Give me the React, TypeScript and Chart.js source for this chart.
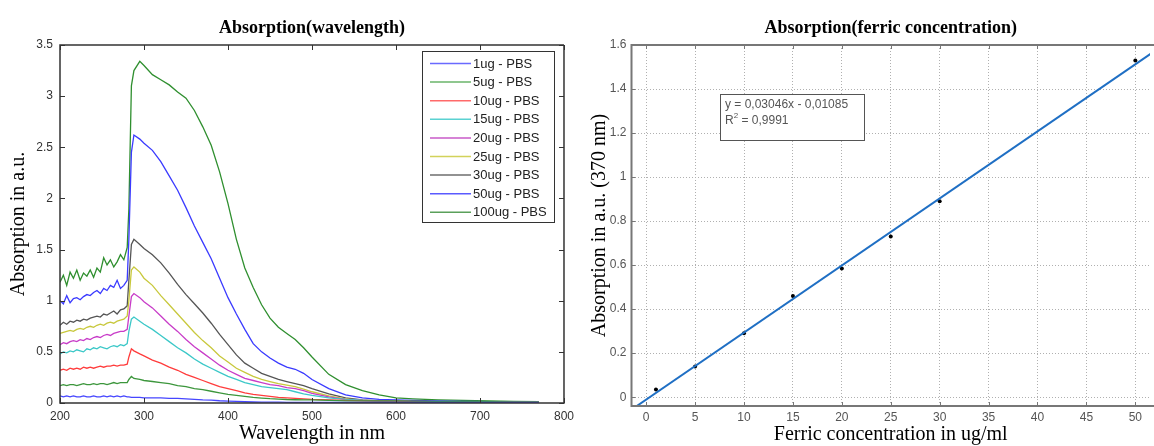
import React, { useEffect, useRef } from "react";
import { Chart, registerables } from "chart.js";

Chart.register(...registerables);

// ---------- Left chart data ----------
const wavelengths = [
  200, 204, 208, 212, 216, 220, 224, 228, 232, 236, 240, 244, 248, 252, 256, 260, 264, 268, 272, 276, 280,
  282, 285, 288, 295, 300, 310, 320, 330, 340, 350, 360, 370, 380, 390, 400, 410, 420, 430, 440, 450, 460,
  470, 480, 490, 500, 520, 540, 560, 580, 600, 620, 650, 680, 710, 740, 770,
];

const abs1ug = [
  0.07, 0.06, 0.07, 0.06, 0.07, 0.06, 0.06, 0.07, 0.06, 0.06, 0.07, 0.06, 0.06, 0.07, 0.06, 0.07, 0.06, 0.07, 0.06, 0.07, 0.06,
  0.06, 0.055, 0.055, 0.055, 0.05, 0.05, 0.05, 0.045, 0.045, 0.04, 0.035, 0.03, 0.028, 0.022, 0.018, 0.015, 0.012, 0.01, 0.009,
  0.008, 0.008, 0.007, 0.007, 0.006, 0.006, 0.006, 0.005, 0.005, 0.005, 0.005, 0.005, 0.005, 0.005, 0.005, 0.005, 0.005,
];
const abs5ug = [
  0.17, 0.18, 0.17, 0.18, 0.18, 0.17, 0.18, 0.19, 0.18, 0.18, 0.19, 0.18, 0.19, 0.19, 0.18, 0.19, 0.2, 0.19, 0.2, 0.2, 0.2,
  0.23, 0.26, 0.24, 0.23, 0.22, 0.21, 0.2, 0.19, 0.17, 0.16, 0.14, 0.13, 0.115, 0.1, 0.085, 0.075, 0.065, 0.055, 0.048, 0.042,
  0.038, 0.034, 0.032, 0.03, 0.03, 0.025, 0.02, 0.02, 0.02, 0.02, 0.018, 0.015, 0.015, 0.012, 0.01, 0.01,
];
const abs10ug = [
  0.32, 0.33, 0.32, 0.34, 0.33, 0.34, 0.33, 0.35, 0.34, 0.35, 0.34, 0.35, 0.36, 0.35, 0.36, 0.36, 0.37, 0.36, 0.37, 0.37, 0.38,
  0.45, 0.53, 0.51, 0.48, 0.46, 0.42, 0.39, 0.35, 0.32, 0.28, 0.25, 0.22, 0.19, 0.16, 0.14, 0.12, 0.1, 0.085, 0.075, 0.065,
  0.055, 0.05, 0.045, 0.04, 0.035, 0.03, 0.025, 0.02, 0.02, 0.018, 0.015, 0.012, 0.01, 0.01, 0.008, 0.008,
];
const abs15ug = [
  0.48, 0.5, 0.49, 0.51, 0.5, 0.52, 0.51, 0.5, 0.53, 0.52, 0.54, 0.53, 0.55, 0.54, 0.53, 0.55, 0.56, 0.55, 0.57, 0.56, 0.58,
  0.7, 0.82, 0.84, 0.8, 0.77, 0.72, 0.66, 0.6, 0.54, 0.49, 0.43, 0.38, 0.34, 0.3, 0.26, 0.23, 0.2, 0.18, 0.16, 0.15,
  0.14, 0.13, 0.11, 0.09, 0.075, 0.05, 0.035, 0.025, 0.02, 0.015, 0.012, 0.01, 0.01, 0.008, 0.008, 0.008,
];
const abs20ug = [
  0.57, 0.59, 0.58, 0.6, 0.61, 0.6, 0.62, 0.61, 0.63, 0.62, 0.64, 0.65, 0.64, 0.66, 0.67, 0.66, 0.68, 0.69, 0.7, 0.7, 0.72,
  0.85, 1.04, 1.07, 1.03, 0.99, 0.93, 0.85, 0.77, 0.7, 0.62, 0.55, 0.49, 0.43, 0.37, 0.32, 0.28, 0.24, 0.22, 0.2, 0.18,
  0.17, 0.15, 0.14, 0.12, 0.095, 0.06, 0.035, 0.025, 0.02, 0.015, 0.012, 0.01, 0.01, 0.008, 0.008, 0.008,
];
const abs25ug = [
  0.68, 0.69, 0.7, 0.71, 0.7, 0.72, 0.73, 0.72, 0.74, 0.75, 0.74, 0.76, 0.77, 0.76, 0.78, 0.79, 0.78, 0.8, 0.81, 0.82, 0.85,
  1.0, 1.3, 1.33, 1.28, 1.22, 1.15, 1.05, 0.96, 0.87, 0.78, 0.69, 0.61, 0.54, 0.46, 0.4, 0.34, 0.3, 0.26, 0.23, 0.21,
  0.19, 0.175, 0.16, 0.135, 0.11, 0.07, 0.04, 0.025, 0.02, 0.015, 0.012, 0.01, 0.01, 0.008, 0.008, 0.008,
];
const abs30ug = [
  0.76, 0.79, 0.77, 0.8, 0.79, 0.81, 0.8, 0.82, 0.81, 0.83, 0.84, 0.85, 0.84, 0.87, 0.86, 0.88, 0.9, 0.87, 0.91, 0.92, 0.95,
  1.2, 1.55, 1.6, 1.55, 1.51, 1.45, 1.37, 1.27, 1.16, 1.06, 0.97, 0.88, 0.78, 0.67, 0.57, 0.47, 0.39, 0.34, 0.29, 0.26,
  0.23, 0.21, 0.19, 0.17, 0.14, 0.09, 0.05, 0.03, 0.02, 0.015, 0.012, 0.01, 0.01, 0.008, 0.008, 0.008,
];
const abs50ug = [
  1.0, 0.97, 1.05, 0.98, 1.02, 1.03, 1.01, 1.04, 1.06, 1.05, 1.08, 1.1, 1.07, 1.12, 1.1, 1.15, 1.13, 1.2, 1.12, 1.15, 1.2,
  1.6, 2.45, 2.62, 2.58, 2.54, 2.47, 2.36, 2.22, 2.08, 1.91, 1.73, 1.57, 1.41, 1.22, 1.03, 0.87, 0.72, 0.58, 0.5, 0.44,
  0.39, 0.35, 0.33, 0.29, 0.23, 0.14, 0.08, 0.05, 0.035, 0.03, 0.025, 0.02, 0.015, 0.012, 0.01, 0.01,
];
const abs100ug = [
  1.18, 1.25, 1.15, 1.28, 1.22, 1.3, 1.2, 1.27, 1.24, 1.3, 1.23, 1.32, 1.28, 1.42, 1.35, 1.4, 1.33, 1.38, 1.45, 1.4, 1.52,
  1.9, 3.1, 3.25, 3.34, 3.3, 3.21, 3.16, 3.11, 3.04, 2.98, 2.86, 2.7, 2.52, 2.26, 1.95, 1.6, 1.32, 1.13, 0.96, 0.83,
  0.74, 0.68, 0.62, 0.54, 0.45, 0.28, 0.18, 0.12, 0.08, 0.05, 0.04, 0.03, 0.025, 0.02, 0.015, 0.012,
];

const seriesLabels = [
  "1ug - PBS", "5ug - PBS", "10ug - PBS", "15ug - PBS", "20ug - PBS",
  "25ug - PBS", "30ug - PBS", "50ug - PBS", "100ug - PBS",
];
const seriesValues = [abs1ug, abs5ug, abs10ug, abs15ug, abs20ug, abs25ug, abs30ug, abs50ug, abs100ug];
const seriesColors = [
  "#4646ff", "#3c963c", "#ff3c3c", "#3cc8c8", "#c83cc8", "#c8c83c", "#555555", "#3a3aff", "#2f8f2f",
];
const legendColors = [
  "#6a6aff", "#6ab46a", "#ff6a6a", "#5ad2d2", "#c85ac8", "#d2d25a", "#6e6e6e", "#5a5aff", "#5aa05a",
];
const leftXTicks = [200, 300, 400, 500, 600, 700, 800];
const leftYTicks = [0, 0.5, 1, 1.5, 2, 2.5, 3, 3.5];

// ---------- Right chart data ----------
const concentrations = [1, 5, 10, 15, 20, 25, 30, 50];
const absorption370 = [0.035, 0.14, 0.29, 0.46, 0.585, 0.73, 0.89, 1.53];
const fitX = [-0.96, 52];
const fitY = [-0.04, 1.573];
const rightXTicks = [0, 5, 10, 15, 20, 25, 30, 35, 40, 45, 50];
const rightYTicks = [0, 0.2, 0.4, 0.6, 0.8, 1, 1.2, 1.4, 1.6];
const equationLines = ["y = 0,03046x - 0,01085", "R", "2", " = 0,9991"];

const SERIF = "'Liberation Serif', 'DejaVu Serif', serif";
const SANS = "'Liberation Sans', Arial, sans-serif";
const plainLabel = (v: any) => String(Math.round(Number(v) * 100) / 100);

function framePlugin(color: string, frameWidth: number, tickLen: number, drawRight: boolean) {
  return {
    id: "frameTicks",
    afterDatasetsDraw(chart: any) {
      const { ctx, chartArea: a, scales } = chart;
      ctx.save();
      ctx.strokeStyle = color;
      ctx.lineWidth = 1;
      ctx.beginPath();
      scales.x.ticks.forEach((t: any) => {
        const px = Math.round(scales.x.getPixelForValue(t.value)) + 0.5;
        ctx.moveTo(px, a.bottom);
        ctx.lineTo(px, a.bottom - tickLen);
        ctx.moveTo(px, a.top);
        ctx.lineTo(px, a.top + tickLen);
      });
      scales.y.ticks.forEach((t: any) => {
        const py = Math.round(scales.y.getPixelForValue(t.value)) + 0.5;
        ctx.moveTo(a.left, py);
        ctx.lineTo(a.left + tickLen, py);
        if (drawRight) {
          ctx.moveTo(a.right, py);
          ctx.lineTo(a.right - tickLen, py);
        }
      });
      ctx.stroke();
      ctx.lineWidth = frameWidth;
      ctx.beginPath();
      ctx.moveTo(a.right + (drawRight ? 0 : 10), a.top);
      ctx.lineTo(a.left, a.top);
      ctx.lineTo(a.left, a.bottom);
      ctx.lineTo(a.right + (drawRight ? 0 : 10), a.bottom);
      if (drawRight) ctx.lineTo(a.right, a.top);
      ctx.stroke();
      ctx.restore();
    },
  };
}

function textPlugin(title: string, xTitle: string, yTitle: string, yTitleX: number, titleY: number, xTitleY: number) {
  return {
    id: "texts",
    afterDraw(chart: any) {
      const { ctx, chartArea: a } = chart;
      const cx = (a.left + a.right) / 2;
      ctx.save();
      ctx.fillStyle = "#000";
      ctx.textAlign = "center";
      ctx.textBaseline = "middle";
      ctx.font = `bold 18px ${SERIF}`;
      ctx.fillText(title, cx, titleY);
      ctx.font = `20px ${SERIF}`;
      ctx.fillText(xTitle, cx, xTitleY);
      ctx.translate(yTitleX, (a.top + a.bottom) / 2);
      ctx.rotate(-Math.PI / 2);
      ctx.fillText(yTitle, 0, 0);
      ctx.restore();
    },
  };
}

const legendPlugin = {
  id: "boxLegend",
  afterDraw(chart: any) {
    const { ctx } = chart;
    ctx.save();
    ctx.fillStyle = "#fff";
    ctx.fillRect(422.5, 51.5, 132, 171);
    ctx.strokeStyle = "#333";
    ctx.lineWidth = 1;
    ctx.strokeRect(422.5, 51.5, 132, 171);
    ctx.font = `13px ${SANS}`;
    ctx.textBaseline = "middle";
    ctx.textAlign = "left";
    seriesLabels.forEach((lab, i) => {
      const y = 63.5 + i * 18.6;
      ctx.strokeStyle = legendColors[i];
      ctx.lineWidth = 1.5;
      ctx.beginPath();
      ctx.moveTo(430, y);
      ctx.lineTo(471, y);
      ctx.stroke();
      ctx.fillStyle = "#222";
      ctx.fillText(lab, 473, y + 0.5);
    });
    ctx.restore();
  },
};

const equationPlugin = {
  id: "equationBox",
  afterDraw(chart: any) {
    const { ctx } = chart;
    ctx.save();
    ctx.fillStyle = "#fff";
    ctx.fillRect(140.5, 94.5, 144, 46);
    ctx.strokeStyle = "#555";
    ctx.lineWidth = 1;
    ctx.strokeRect(140.5, 94.5, 144, 46);
    ctx.fillStyle = "#555";
    ctx.textBaseline = "middle";
    ctx.textAlign = "left";
    ctx.font = `12px ${SANS}`;
    ctx.fillText(equationLines[0], 145, 105);
    ctx.fillText(equationLines[1], 145, 121);
    const rW = ctx.measureText(equationLines[1]).width;
    ctx.font = `8px ${SANS}`;
    ctx.fillText(equationLines[2], 145 + rW, 116);
    const sW = ctx.measureText(equationLines[2]).width;
    ctx.font = `12px ${SANS}`;
    ctx.fillText(equationLines[3], 145 + rW + sW, 121);
    ctx.restore();
  },
};

function LeftChart() {
  const ref = useRef<HTMLCanvasElement>(null);
  useEffect(() => {
    const chart = new Chart(ref.current!, {
      type: "line",
      data: {
        datasets: seriesValues.map((vals, i) => ({
          label: seriesLabels[i],
          data: wavelengths.map((w, j) => ({ x: w, y: vals[j] })),
          borderColor: seriesColors[i],
          borderWidth: 1.3,
          pointRadius: 0,
          tension: 0,
          fill: false,
        })),
      },
      options: {
        animation: false,
        responsive: false,
        layout: { padding: { top: 45, right: 16, left: 0, bottom: 0 } },
        plugins: { legend: { display: false }, title: { display: false }, tooltip: { enabled: false } },
        scales: {
          x: {
            type: "linear",
            min: 200,
            max: 800,
            afterBuildTicks: (s: any) => { s.ticks = leftXTicks.map((v) => ({ value: v })); },
            afterFit: (s: any) => { s.height = 43; },
            grid: { display: false, drawTicks: false },
            border: { display: false },
            ticks: { padding: 6, color: "#333", font: { family: SANS, size: 12 }, maxRotation: 0, callback: plainLabel },
          },
          y: {
            type: "linear",
            min: 0,
            max: 3.5,
            afterBuildTicks: (s: any) => { s.ticks = leftYTicks.map((v) => ({ value: v })); },
            afterFit: (s: any) => { s.width = 60; },
            grid: { display: false, drawTicks: false },
            border: { display: false },
            ticks: { padding: 7, color: "#333", font: { family: SANS, size: 12 }, callback: plainLabel },
          },
        },
      },
      plugins: [
        framePlugin("#333", 1.5, 5, true),
        legendPlugin,
        textPlugin("Absorption(wavelength)", "Wavelength in nm", "Absorption in a.u.", 19, 28, 434),
      ],
    } as any);
    return () => chart.destroy();
  }, []);
  return <canvas ref={ref} width={580} height={446} style={{ position: "absolute", left: 0, top: 0, width: 580, height: 446 }} />;
}

function RightChart() {
  const ref = useRef<HTMLCanvasElement>(null);
  useEffect(() => {
    const chart = new Chart(ref.current!, {
      type: "scatter",
      data: {
        datasets: [
          {
            type: "line",
            label: "fit",
            data: fitX.map((x, i) => ({ x, y: fitY[i] })),
            borderColor: "#1f6fc4",
            borderWidth: 2,
            pointRadius: 0,
            clip: 0,
          },
          {
            type: "scatter",
            label: "measured",
            data: concentrations.map((x, i) => ({ x, y: absorption370[i] })),
            backgroundColor: "#000",
            borderColor: "#000",
            pointRadius: 2,
            borderWidth: 0,
          },
        ],
      },
      options: {
        animation: false,
        responsive: false,
        layout: { padding: { top: 45, right: 0, left: 0, bottom: 0 } },
        plugins: { legend: { display: false }, title: { display: false }, tooltip: { enabled: false } },
        scales: {
          x: {
            type: "linear",
            min: -1.5,
            max: 51.5,
            afterBuildTicks: (s: any) => { s.ticks = rightXTicks.map((v) => ({ value: v })); },
            afterFit: (s: any) => { s.height = 40; },
            grid: { display: true, drawTicks: false, color: "#b0b0b0", lineWidth: 1 },
            border: { display: false, dash: [1, 2] },
            ticks: { padding: 4, color: "#555", font: { family: SANS, size: 12 }, maxRotation: 0, callback: plainLabel },
          },
          y: {
            type: "linear",
            min: -0.04,
            max: 1.6,
            afterBuildTicks: (s: any) => { s.ticks = rightYTicks.map((v) => ({ value: v })); },
            afterFit: (s: any) => { s.width = 51.5; },
            grid: { display: true, drawTicks: false, color: "#b0b0b0", lineWidth: 1 },
            border: { display: false, dash: [1, 2] },
            ticks: { padding: 5, color: "#555", font: { family: SANS, size: 12 }, callback: plainLabel },
          },
        },
      },
      plugins: [
        framePlugin("#777", 2, 4, false),
        equationPlugin,
        textPlugin("Absorption(ferric concentration)", "Ferric concentration in ug/ml", "Absorption in a.u. (370 nm)", 20, 28, 435),
      ],
    } as any);
    return () => chart.destroy();
  }, []);
  return <canvas ref={ref} width={574} height={446} style={{ position: "absolute", left: 580, top: 0, width: 574, height: 446 }} />;
}

export default function App() {
  return (
    <div style={{ position: "absolute", left: 0, top: 0, width: 1154, height: 446, background: "#fff", overflow: "hidden" }}>
      <LeftChart />
      <RightChart />
    </div>
  );
}
